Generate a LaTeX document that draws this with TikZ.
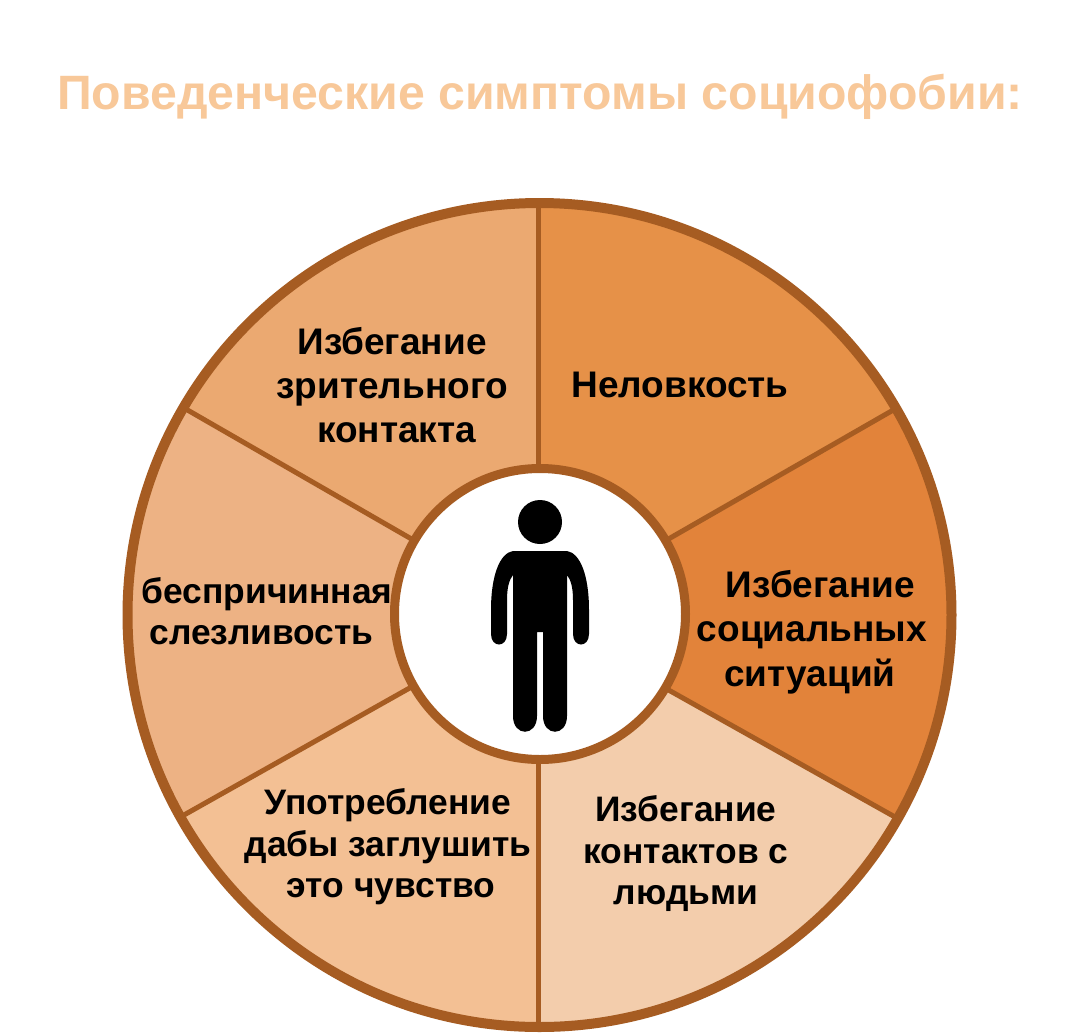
\documentclass[tikz,border=0pt]{standalone}
\usepackage{fontspec}
\setmainfont{Liberation Sans}
\definecolor{ringc}{HTML}{A65C22}
\definecolor{titlec}{HTML}{F8C899}
\definecolor{sa}{HTML}{E69148}
\definecolor{sb}{HTML}{E2833A}
\definecolor{sc}{HTML}{F3CDAC}
\definecolor{sd}{HTML}{F3C094}
\definecolor{se}{HTML}{EDB284}
\definecolor{sf}{HTML}{EBA971}
\tikzset{
  spoke/.style={draw=ringc,line width=5pt},
  lbl/.style={font=\bfseries\fontsize{37}{44.3}\selectfont,text=black,align=center,inner sep=0pt},
  lbls/.style={lbl,font=\bfseries\fontsize{35.4}{41.5}\selectfont},
  lbll/.style={lbls,align=left},
}
\begin{document}
\begin{tikzpicture}[x=1pt,y=-1pt]
\useasboundingbox (0,0) rectangle (1080,1034);
\fill[white] (0,0) rectangle (1080,1034);
\node[inner sep=0pt,font=\bfseries\fontsize{48.2}{50}\selectfont,text=titlec] (title) at (540,97) {Поведенческие симптомы социофобии:};
\coordinate (O) at (539.5,615);
\coordinate (C) at (540,614);
\coordinate (H) at (538,614);
% sectors
\begin{scope}
\clip (O) circle[radius=412];
\fill[sa] (H) -- (538,0) -- (1252,0) -- (1252,204) -- cycle;
\fill[sb] (H) -- (1252,204) -- (1252,1020) -- cycle;
\fill[sc] (H) -- (1252,1020) -- (1252,1100) -- (538,1100) -- cycle;
\fill[sd] (H) -- (538,1100) -- (-171,1100) -- (-171,1016) -- cycle;
\fill[se] (H) -- (-171,1016) -- (-171,202) -- cycle;
\fill[sf] (H) -- (-171,202) -- (-171,0) -- (538,0) -- cycle;
\end{scope}
% spokes
\coordinate (s1a) at (538,205); \coordinate (s1b) at (538,470);
\coordinate (s2a) at (895,409); \coordinate (s2b) at (665,541);
\coordinate (s3a) at (895,817); \coordinate (s3b) at (665,688);
\coordinate (s4a) at (538,1024); \coordinate (s4b) at (538,760);
\coordinate (s5a) at (184,815); \coordinate (s5b) at (415,685);
\coordinate (s6a) at (184,408); \coordinate (s6b) at (415,541);
\foreach \p in {1,...,6} {\draw[spoke] (s\p a) -- (s\p b);}
\draw[ringc,line width=10pt] (O) circle[radius=412];
% labels
\node[lbl] (l1) at (392,385) {Избегание\\зрительного\\\hspace*{9pt}контакта};
\node[lbl] (l2) at (680,385) {Неловкость};
\node[lbl] (l3) at (812,632) {\hspace*{17pt}Избегание\\социальных\\ситуаций\hspace*{4pt}};
\node[lbls] (l4) at (686,854) {Избегание\\контактов с\\людьми};
\node[lbls] (l5) at (388,847) {Употребление\\дабы заглушить\\\hspace*{6pt}это чувство};
\node[lbll] (l6) at (267,611) {беспричинная\\\hspace*{8pt}слезливость};
% centre
\draw[ringc,line width=9pt,fill=white] (C) circle[radius=145.5];
% figure
\fill[black] (C) ++(0,-92) circle[radius=22];
\fill[black] (513,551) -- (567,551)
  .. controls (580,553) and (589,575) .. (589,610)
  -- (589,634) .. controls (589,648) and (573,648) .. (573,634)
  -- (573,600) .. controls (573,588) and (571,580) .. (567,575)
  -- (567,716) .. controls (567,737) and (543,737) .. (543,716)
  -- (543,632) -- (537,632)
  -- (537,716) .. controls (537,737) and (513,737) .. (513,716)
  -- (513,575) .. controls (509,580) and (507,588) .. (507,600)
  -- (507,634) .. controls (507,648) and (491,648) .. (491,634)
  -- (491,610) .. controls (491,575) and (500,553) .. (513,551) -- cycle;
\end{tikzpicture}
\end{document}
